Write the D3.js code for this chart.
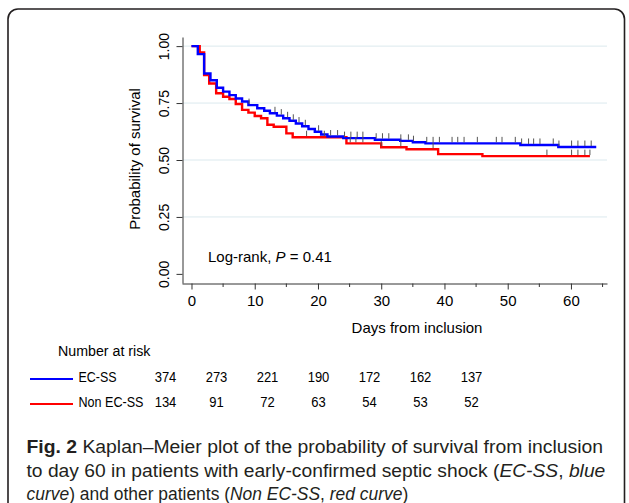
<!DOCTYPE html>
<html><head><meta charset="utf-8">
<script src="https://cdn.jsdelivr.net/npm/d3@7"></script>
<style>body{margin:0;background:#fff}svg{display:block}</style>
</head><body>
<svg id="c" width="629" height="503"></svg>
<script>
// ---- data ----
const ecssTimes = [0,1,2,3,4,5,6,7,8,9,10.4,11.5,12.4,13.5,14.5,15.5,16.5,17.5,18.5,19.5,20.5,21.5,24,29,33,35,37,52,58,64];
const ecssSurv  = [1.0,0.965,0.88,0.85,0.817,0.80,0.785,0.77,0.757,0.741,0.727,0.716,0.705,0.695,0.683,0.672,0.66,0.648,0.636,0.624,0.612,0.603,0.596,0.589,0.584,0.578,0.573,0.566,0.557,0.557];
const ecssCensor = [9.1,13.2,14.2,15.2,16.1,17,18,20.1,22,23.1,24.2,25.2,26.2,27.1,29.2,30.2,31.2,33.1,34.3,35.1,37.2,38.2,39.2,41.2,42.1,43.1,45.2,48.2,49.1,51.2,52.2,53.3,54.1,55.1,57.2,58.1,60.1,61.1,62.2,63.2];
const nonTimes = [0,1.3,2,2.8,3.9,5,6,7,8,9,10,11,12,13,15,16,24.5,30,34,39,46,63];
const nonSurv  = [1.0,0.972,0.873,0.836,0.793,0.778,0.768,0.746,0.72,0.708,0.693,0.683,0.655,0.646,0.617,0.60,0.573,0.556,0.547,0.526,0.517,0.517];
const nonCensor = [18.2,21,25.1,26,27.1,30,33.1,38.2,56.2,60.1,61.1,62.2,63];
const yTicks = [0,0.25,0.5,0.75,1];
const xTicks = [0,10,20,30,40,50,60];
const xMinor = [5,15,25,35,45,55,65];
const riskTimes = [0,10,20,30,40,50,60];
const riskEcss = [374,273,221,190,172,162,137];
const riskNon  = [134,91,72,63,54,53,52];
const groupNames = ["EC-SS","Non EC-SS"];
const groupColors = ["#0000ff","#ff0000"];

const svg = d3.select("#c");
const font = "'Liberation Sans', Arial, sans-serif";

// horizontally fit a text element to a target width, keeping its height
function fitX(sel, x0, y0, target){
  const len = sel.node().getComputedTextLength();
  const sx = target / len;
  sel.attr("transform", `translate(${x0},${y0}) scale(${sx},1)`);
}

// border
svg.append("rect").attr("x",8).attr("y",9).attr("width",616.5).attr("height",540).attr("rx",10)
  .attr("fill","none").attr("stroke","#231f20").attr("stroke-width",1.6);

const x = d3.scaleLinear().domain([-1.5,65.7]).range([182,607]);
const y = d3.scaleLinear().domain([-0.04,1.04]).range([283,37]);

// gridlines
svg.append("g").selectAll("line").data(yTicks.filter(d=>d>0)).join("line")
  .attr("x1",183).attr("x2",607).attr("y1",d=>y(d)).attr("y2",d=>y(d))
  .attr("stroke","#dbe9ee").attr("stroke-width",1);

// y axis
const ya = svg.append("g").attr("transform","translate(182.5,0)")
  .call(d3.axisLeft(y).tickValues(yTicks).tickFormat(d3.format(".2f")).tickSize(6).tickSizeOuter(0));
ya.select(".domain").attr("stroke","#333");
ya.selectAll(".tick line").attr("stroke","#333");
ya.selectAll("text").attr("transform","rotate(-90)").attr("x",0).attr("y",-14).attr("dy",0)
  .attr("text-anchor","middle").attr("font-family",font).attr("font-size",14).attr("fill","#000");

// x axis
const xa = svg.append("g").attr("transform","translate(0,283.5)")
  .call(d3.axisBottom(x).tickValues(xTicks).tickSize(6).tickSizeOuter(0));
xa.select(".domain").attr("stroke","#333");
xa.selectAll(".tick line").attr("stroke","#333");
xa.selectAll("text").attr("y",22).attr("dy",0).attr("font-family",font).attr("font-size",15).attr("fill","#000");
svg.append("g").selectAll("line").data(xMinor).join("line")
  .attr("x1",d=>x(d)).attr("x2",d=>x(d)).attr("y1",283.5).attr("y2",287).attr("stroke","#333");

// axis titles
svg.append("text").attr("transform","translate(140,159) rotate(-90)").attr("text-anchor","middle")
  .attr("font-family",font).attr("font-size",15).text("Probability of survival");
svg.append("text").attr("x",417).attr("y",333).attr("text-anchor","middle")
  .attr("font-family",font).attr("font-size",15).text("Days from inclusion");

// log-rank
const lr = svg.append("text").attr("x",208).attr("y",262).attr("font-family",font).attr("font-size",15);
lr.append("tspan").text("Log-rank, ");
lr.append("tspan").attr("font-style","italic").text("P");
lr.append("tspan").text(" = 0.41");

// curves
function stepAt(times, surv, t){ let i = d3.bisectRight(times, t) - 1; return surv[Math.max(0,i)]; }
const line = d3.line().x(d=>x(d[0])).y(d=>y(d[1])).curve(d3.curveStepAfter);
const series = [
  {times: nonTimes, surv: nonSurv, cens: nonCensor, color: groupColors[1]},
  {times: ecssTimes, surv: ecssSurv, cens: ecssCensor, color: groupColors[0]}
];
series.forEach(s=>{
  svg.append("path").datum(d3.zip(s.times, s.surv)).attr("d",line)
    .attr("fill","none").attr("stroke",s.color).attr("stroke-width",2.4);
});
series.forEach(s=>{
  svg.append("g").selectAll("line").data(s.cens).join("line")
    .attr("x1",d=>x(d)).attr("x2",d=>x(d))
    .attr("y1",d=>y(stepAt(s.times,s.surv,d))-1).attr("y2",d=>y(stepAt(s.times,s.surv,d))-6.5)
    .attr("stroke","#555").attr("stroke-width",1);
});

// risk table
const nar = svg.append("text").attr("font-family",font).attr("font-size",15.5).text("Number at risk");
fitX(nar, 58, 356, 92.5);
const rx = d3.scaleLinear().domain([0,60]).range([165.5,471.5]);
const rows = [riskEcss, riskNon];
const rowY = [382,407];
const labelW = [38, 65];
rows.forEach((r,i)=>{
  svg.append("line").attr("x1",30).attr("x2",73).attr("y1",rowY[i]-3).attr("y2",rowY[i]-3)
    .attr("stroke",groupColors[i]).attr("stroke-width",2.2);
  const lab = svg.append("text").attr("font-family",font).attr("font-size",15.5).text(groupNames[i]);
  fitX(lab, 78.5, rowY[i], labelW[i]);
  svg.append("g").selectAll("text").data(riskTimes).join("text")
    .attr("transform",d=>`translate(${rx(d)},${rowY[i]}) scale(0.84,1)`).attr("text-anchor","middle")
    .attr("font-family",font).attr("font-size",15.5).text((d,j)=>r[j]);
});

// caption
const capFont = "'Liberation Sans', Arial, sans-serif";
const capLines = [
  {y:453, w:577, parts:[["Fig. 2","bold"],[" Kaplan–Meier plot of the probability of survival from inclusion",""]]},
  {y:476.5, w:579, parts:[["to day 60 in patients with early-confirmed septic shock (",""],["EC-SS","italic"],[", ",""],["blue","italic"]]},
  {y:499.5, w:382, parts:[["curve","italic"],[") and other patients (",""],["Non EC-SS","italic"],[", ",""],["red curve","italic"],[")",""]]}
];
capLines.forEach(l=>{
  const t = svg.append("text").attr("font-family",capFont).attr("font-size",18.5).attr("fill","#231f20");
  l.parts.forEach(p=>{
    const ts = t.append("tspan").text(p[0]);
    if(p[1]==="bold") ts.attr("font-weight","bold");
    if(p[1]==="italic") ts.attr("font-style","italic");
  });
  const len = t.node().getBBox().width;
  t.attr("transform", `translate(26.5,${l.y}) scale(${l.w/len},1)`);
});
</script>
</body></html>
